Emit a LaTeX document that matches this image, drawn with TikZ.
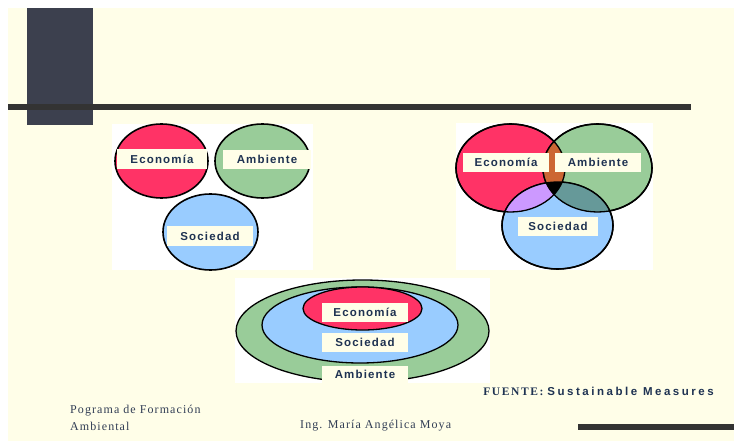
\documentclass[tikz,border=0pt]{standalone}
\usepackage{fontspec}
\setmainfont{Liberation Serif}
\setsansfont{Liberation Sans}
\newfontfamily\lblfont[LetterSpace=10]{Liberation Sans}
\newfontfamily\srcfont[LetterSpace=22]{Liberation Sans}
\newfontfamily\fuentefont[LetterSpace=14]{Liberation Serif}
\newfontfamily\ftfont[LetterSpace=9]{Liberation Serif}
\usepackage{xcolor}
\usepackage{tikz}
\usetikzlibrary{shapes.geometric}
\usetikzlibrary{positioning}
\definecolor{cream}{RGB}{255,254,232}
\definecolor{slate}{RGB}{60,64,78}
\definecolor{barcol}{RGB}{51,51,51}
\definecolor{navy}{RGB}{31,51,82}
\definecolor{ftgray}{RGB}{50,62,85}
\definecolor{eco}{RGB}{255,51,102}
\definecolor{amb}{RGB}{153,204,153}
\definecolor{soc}{RGB}{153,204,255}
\definecolor{ecoamb}{RGB}{204,102,51}
\definecolor{ecosoc}{RGB}{204,153,255}
\definecolor{ambsoc}{RGB}{102,153,153}

\begin{document}
\begin{tikzpicture}[x=1pt,y=-1pt,
		ring/.style={ellipse, draw, line width=1.6pt, inner sep=0pt},
		lbl/.style={fill=cream, inner sep=0pt, minimum width=86pt, minimum height=19pt, text=navy, font=\lblfont\bfseries\fontsize{11.5}{12}\selectfont},
		ftxt/.style={anchor=west, inner sep=0pt, text=ftgray, font=\ftfont\fontsize{12}{13}\selectfont}]
		\useasboundingbox (0,0) rectangle (734,441);
		%background
		\fill[cream] (8,8) rectangle (734,441);
		\fill[slate] (27,8) rectangle (93,125);
		\fill[barcol] (8,104) rectangle (691,110);
		\fill[slate] (27,110) rectangle (93,125);
		\fill[barcol] (578,424) rectangle (734,430);
		
		%coordinates
		\coordinate (ecoB) at (510.5,168);
		\coordinate (ambB) at (597.5,168);
		\coordinate (socB) at (557.5,225.5);
		
		%panels
		\fill[white] (112,124) rectangle (313,270);
		\fill[white] (456,123) rectangle (653,270);
		\fill[white] (235,278) rectangle (490,383);
		
		%separate circles
		\node[ring, fill=eco, minimum width=93pt, minimum height=74pt] (EcoA) at (161.5,161) {};
		\node[ring, fill=amb, minimum width=95pt, minimum height=74pt] (AmbA) at (262.5,161) {};
		\node[ring, fill=soc, minimum width=95pt, minimum height=76pt] (SocA) at (210.5,232) {};
		\node[lbl, minimum width=90pt, minimum height=20pt] (EcoAl) at (162,159) {Economía};
		\node[lbl, minimum width=88pt] (AmbAl) at (267,159.5) {Ambiente};
		\node[lbl, minimum height=20pt] (SocAl) at (210,236) {Sociedad};
		
		%overlapping circles
		\node[ring, fill=eco, minimum width=109pt, minimum height=88pt] (EcoB) at (ecoB) {};
		\node[ring, fill=amb, minimum width=109pt, minimum height=88pt] (AmbB) at (ambB) {};
		\node[ring, fill=soc, minimum width=111pt, minimum height=87pt] (SocB) at (socB) {};
		\begin{scope}
			\clip (ecoB) ellipse (54.5pt and 44pt);
			\fill[ecoamb] (ambB) ellipse (54.5pt and 44pt);
			\fill[ecosoc] (socB) ellipse (55.5pt and 43.5pt);
			\clip (ambB) ellipse (54.5pt and 44pt);
			\fill[black] (socB) ellipse (55.5pt and 43.5pt);
		\end{scope}
		\begin{scope}
			\clip (ambB) ellipse (54.5pt and 44pt);
			\clip (socB) ellipse (55.5pt and 43.5pt);
			\fill[ambsoc] (ecoB) ++(-200,-200) rectangle ++(400,400);
			\fill[black] (ecoB) ellipse (54.5pt and 44pt);
		\end{scope}
		\draw[line width=1.3pt] (ecoB) ellipse (54.5pt and 44pt) (ambB) ellipse (54.5pt and 44pt) (socB) ellipse (55.5pt and 43.5pt);
		\node[lbl] (EcoBl) at (506,162.5) {Economía};
		\node[lbl] (AmbBl) at (598,162.5) {Ambiente};
		\node[lbl, minimum width=80pt] (SocBl) at (558,226.5) {Sociedad};
		
		%nested circles
		\node[ring, line width=1.3pt, fill=amb, minimum width=253pt, minimum height=102pt] (AmbC) at (362.5,331) {};
		\node[ring, line width=1.3pt, fill=soc, minimum width=196pt, minimum height=76pt] (SocC) at (360,325) {};
		\node[ring, line width=1.3pt, fill=eco, minimum width=119pt, minimum height=43pt] (EcoC) at (362.5,308.5) {};
		\node[lbl] (EcoCl) at (365,312.5) {Economía};
		\node[lbl] (SocCl) at (365,342.5) {Sociedad};
		\node[lbl, minimum height=17pt] (AmbCl) at (365,374.5) {Ambiente};
		
		%footer
		\node[anchor=east, inner sep=0pt, text=navy] (src) at (714,391) {{\fuentefont\bfseries\fontsize{11.5}{12}\selectfont FUENTE:}\hspace{4pt}{\srcfont\bfseries\fontsize{11.5}{12}\selectfont Sustainable Measures}};
		\node[ftxt] (prog) at (70,411) {Pograma de Formación};
		\node[ftxt] (progb) at (70,426) {Ambiental};
		\node[ftxt] (autor) at (300,426) {Ing. María Angélica Moya};
\end{tikzpicture}
\end{document}
